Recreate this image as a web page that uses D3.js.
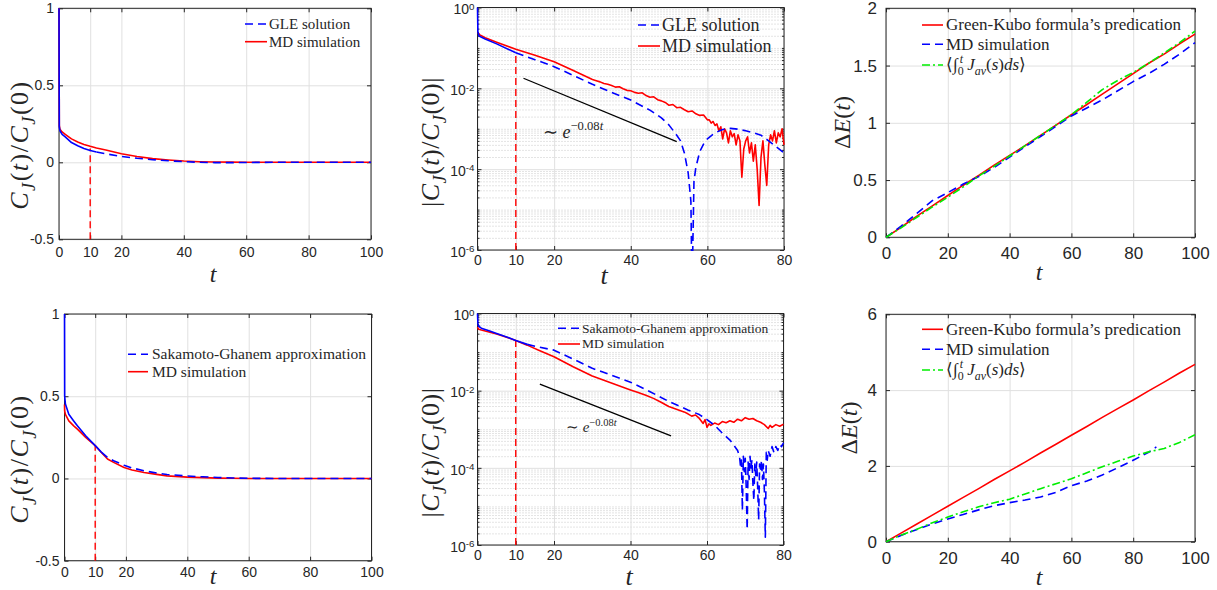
<!DOCTYPE html>
<html>
<head>
<meta charset="utf-8">
<script src="https://cdn.jsdelivr.net/npm/d3@7"></script>
<style>
  body { margin: 0; background: #fff; }
  svg { display: block; }
</style>
</head>
<body>
<svg width="1217" height="590"></svg>
<script>
// ---- data ----
// top-left: C_J(t)/C_J(0), GLE vs MD
const p1T   = [0, 0.1, 0.3, 1, 2, 4, 6, 8, 10, 12, 15, 20, 25, 30, 35, 40, 45, 50, 55, 60, 70, 80, 90, 100];
const p1Gle = [1, 0.23, 0.205, 0.182, 0.165, 0.128, 0.108, 0.09, 0.077, 0.067, 0.055, 0.038, 0.026, 0.017, 0.010, 0.004, 0.0, -0.002, -0.002, -0.001, 0, 0, 0, 0];
const p1Md  = [1, 0.24, 0.215, 0.197, 0.182, 0.152, 0.132, 0.116, 0.104, 0.093, 0.080, 0.056, 0.038, 0.024, 0.015, 0.008, 0.004, 0.002, 0.001, 0, 0, 0, 0, 0];

// top-middle: |C_J(t)/C_J(0)| (log10 exponents)
const p2GleT   = [0, 0.1, 0.4, 2, 5, 10, 15, 20, 25, 30, 35, 40, 45, 48, 50, 52, 53, 54, 55, 55.7, 56, 56.5, 57, 58, 59, 60, 62, 64, 66, 68, 70, 72, 74, 76, 78, 80];
const p2GleExp = [0, -0.6, -0.705, -0.78, -0.9, -1.12, -1.29, -1.465, -1.68, -1.9, -2.1, -2.29, -2.54, -2.73, -2.91, -3.16, -3.3, -3.6, -4.1, -4.8, -7, -4.3, -3.95, -3.57, -3.38, -3.25, -3.1, -3.02, -2.99, -3.01, -3.05, -3.1, -3.16, -3.3, -3.45, -3.6];
const p2MdT = [0.1, 0.5, 2, 5, 10, 15, 20, 25, 30, 31, 32, 33, 34, 35, 36, 37, 38, 39, 40, 41, 42, 43, 44, 45, 46, 47, 48, 49, 50,
  51, 52, 53, 54, 55, 56, 57, 58, 59, 60, 60.5, 61, 61.5, 62, 62.5, 63, 63.5, 64, 64.5, 65, 65.5, 66, 66.5, 67, 67.5, 68, 68.5, 69, 69.5, 70,
  70.5, 71, 71.5, 72, 72.5, 73, 73.5, 74, 74.5, 75, 75.5, 76, 76.5, 77, 77.5, 78, 78.5, 79, 79.5, 80];
const p2MdExp = [-0.62, -0.67, -0.75, -0.86, -1.035, -1.18, -1.34, -1.56, -1.78, -1.81, -1.84, -1.88, -1.9, -1.93, -1.97, -1.96, -2.01, -2.05, -2.06, -2.1, -2.12, -2.11, -2.18, -2.22, -2.21, -2.28, -2.31, -2.35, -2.42,
  -2.4, -2.48, -2.47, -2.53, -2.58, -2.56, -2.63, -2.67, -2.66, -2.78, -2.78, -2.86, -2.82, -2.92, -2.88, -3.05, -2.95, -3.25, -3.0, -3.1, -3.35, -3.05, -3.2, -3.12, -3.4, -3.15, -3.3, -4.2, -3.5, -3.3,
  -3.2, -3.6, -3.35, -3.8, -3.4, -4.0, -4.9, -3.7, -3.3, -3.9, -4.4, -3.4, -3.15, -3.3, -3.05, -3.35, -3.1, -3.2, -3.0, -3.4];
const p2SlopeT = [12, 52];
const p2SlopeExp = [-1.75, -3.32];

// top-right: Delta E(t)
const p3T   = [0, 5, 10, 15, 20, 25, 30, 35, 40, 45, 50, 55, 60, 65, 70, 75, 80, 85, 90, 95, 100];
const p3Gk  = [0, 0.09, 0.185, 0.275, 0.365, 0.455, 0.54, 0.63, 0.715, 0.8, 0.89, 0.98, 1.07, 1.16, 1.25, 1.34, 1.43, 1.52, 1.6, 1.69, 1.775];
const p3Md  = [0, 0.1, 0.21, 0.32, 0.39, 0.465, 0.53, 0.61, 0.7, 0.79, 0.88, 0.97, 1.06, 1.13, 1.2, 1.28, 1.36, 1.43, 1.51, 1.6, 1.7];
const p3Int = [0, 0.085, 0.175, 0.265, 0.35, 0.44, 0.535, 0.62, 0.71, 0.8, 0.89, 0.98, 1.07, 1.18, 1.29, 1.37, 1.44, 1.52, 1.61, 1.7, 1.8];

// bottom-left: C_J(t)/C_J(0), Sakamoto-Ghanem vs MD
const p4T  = [0, 0.05, 0.3, 1.4, 3, 4.2, 6.9, 10, 12, 14, 16, 19.4, 22, 25.9, 30, 33.4, 40, 45, 50, 55, 60, 70, 80, 90, 100];
const p4Sg = [1, 0.5, 0.453, 0.39, 0.35, 0.32, 0.26, 0.2, 0.16, 0.128, 0.108, 0.081, 0.064, 0.047, 0.033, 0.024, 0.015, 0.01, 0.006, 0.003, 0.001, 0, 0, 0, 0];
const p4Md = [0.45, 0.41, 0.39, 0.35, 0.32, 0.3, 0.25, 0.2, 0.158, 0.118, 0.098, 0.067, 0.052, 0.036, 0.025, 0.016, 0.008, 0.005, 0.002, 0.001, 0, 0, 0, 0, 0];

// bottom-middle: |C_J(t)/C_J(0)| (log10 exponents)
const p5SgT = [0, 0.1, 0.3, 1, 3, 5, 8, 10, 13, 16, 20, 25, 30, 35, 40, 45, 50, 55, 58, 60, 62, 64, 66, 68,
  68.5, 68.75, 69, 69.25, 69.5, 69.75, 70, 70.25, 70.5, 70.75, 71, 71.25, 71.5, 71.75, 72, 72.25, 72.5, 72.75,
  73, 73.25, 73.5, 73.75, 74, 74.25, 74.5, 74.75, 75, 75.25, 75.5, 75.75, 76, 76.5, 77, 77.5, 78, 78.5, 79, 79.5, 80];
const p5SgExp = [0, -0.25, -0.33, -0.38, -0.45, -0.52, -0.62, -0.7, -0.8, -0.87, -0.95, -1.18, -1.42, -1.6, -1.78, -2.02, -2.28, -2.5, -2.62, -2.75, -2.9, -3.1, -3.28, -3.55,
  -3.7, -3.95, -3.8, -5.1, -3.7, -4.1, -3.75, -4.5, -5.6, -3.85, -4.3, -3.7, -4.0, -3.8, -4.4, -4.85, -3.9, -4.2,
  -3.85, -4.5, -5.35, -3.9, -4.1, -3.8, -4.3, -3.9, -4.6, -5.8, -3.6, -3.8, -3.55, -3.7, -3.45, -3.6, -3.45, -3.55, -3.4, -3.45, -3.35];
const p5MdT = [0, 0.3, 1, 3, 5, 8, 10, 13, 16, 20, 25, 30, 35, 40, 42, 44, 46, 48, 50, 52, 54, 55, 56, 57, 58, 59, 59.5, 60, 60.5, 61,
  62, 63, 64, 65, 66, 67, 68, 69, 70, 71, 72, 73, 74, 75, 76, 76.5, 77, 78, 79, 80];
const p5MdExp = [-0.35, -0.41, -0.43, -0.48, -0.53, -0.63, -0.7, -0.82, -0.95, -1.12, -1.38, -1.62, -1.8, -1.98, -2.05, -2.12, -2.2, -2.3, -2.41, -2.48, -2.55, -2.6, -2.66, -2.63, -2.72, -2.85, -2.75, -2.95, -2.86, -2.9,
  -2.84, -2.88, -2.8, -2.83, -2.78, -2.82, -2.74, -2.78, -2.7, -2.74, -2.72, -2.78, -2.82, -2.88, -2.98, -2.9, -2.95, -2.88, -2.92, -2.87];
const p5SlopeT = [16.3, 50.6];
const p5SlopeExp = [-1.83, -3.17];

// bottom-right: Delta E(t)
const p6T   = [0, 5, 10, 15, 20, 25, 30, 35, 40, 45, 50, 55, 60, 65, 70, 75, 80, 85, 90, 95, 100];
const p6Gk  = [0, 0.234, 0.468, 0.7, 0.936, 1.17, 1.4, 1.64, 1.87, 2.1, 2.34, 2.57, 2.81, 3.04, 3.28, 3.51, 3.74, 3.98, 4.21, 4.45, 4.68];
const p6Int = [0, 0.18, 0.33, 0.5, 0.65, 0.79, 0.92, 1.03, 1.12, 1.26, 1.4, 1.53, 1.66, 1.82, 1.98, 2.12, 2.26, 2.37, 2.46, 2.62, 2.82];
const p6MdT = [0, 5, 10, 15, 20, 25, 30, 35, 40, 45, 50, 55, 60, 65, 70, 75, 80, 85, 87.5];
const p6Md  = [0, 0.17, 0.32, 0.47, 0.6, 0.72, 0.84, 0.95, 1.03, 1.1, 1.18, 1.3, 1.48, 1.6, 1.76, 1.95, 2.15, 2.36, 2.5];

// ticks
const xTicksA = [0, 10, 20, 40, 60, 80, 100];
const xTicksB = [0, 10, 20, 40, 60, 80];
const xTicksC = [0, 20, 40, 60, 80, 100];
const yTicksC = [-0.5, 0, 0.5, 1];
const yTicksLog = [1, 1e-2, 1e-4, 1e-6];
const yTicksE1 = [0, 0.5, 1, 1.5, 2];
const yTicksE2 = [0, 2, 4, 6];

// ---- drawing ----
const svg = d3.select("svg");
const SERIF = "'Liberation Serif', 'Times New Roman', serif";
const SANS = "'Liberation Sans', Arial, Helvetica, sans-serif";
const INK = "#262626";
const BLUE = "#0000ff", RED = "#ff0000", GREEN = "#00ee00";

// text with italic / sub / sup pieces
function rich(text, parts, fs) {
  let shift = 0;
  parts.forEach(([s, f = "", dx = 0]) => {
    const target = f.includes("sub") ? 0.28 * fs : f.includes("sup") ? -0.42 * fs : 0;
    const ts = text.append("tspan").text(s);
    if (target !== shift) ts.attr("dy", target - shift);
    if (dx) ts.attr("dx", dx);
    if (f.includes("sub") || f.includes("sup")) ts.attr("font-size", fs * 0.7);
    if (f.includes("i")) ts.attr("font-style", "italic");
    shift = target;
  });
}

const labCJ = [["C", "i"], ["J", "i sub"], ["("], ["t", "i"], [")/"], ["C", "i"], ["J", "i sub"], ["(0)"]];
const labAbs = [["|"]].concat(labCJ, [["|"]]);
const labDE = [["Δ"], ["E", "i"], ["("], ["t", "i"], [")"]];
const labT = [["t", "i"]];
const labExp = [["∼ "], ["e", "i"], ["−0.08", "sup"], ["t", "i sup"]];
const labGle = [["GLE solution"]];
const labMd = [["MD simulation"]];
const labSg = [["Sakamoto-Ghanem approximation"]];
const labGk = [["Green-Kubo formula’s predication"]];
const labInt = [["⟨∫"], ["0", "sub"], ["t", "i sup", -4], [" J", "i"], ["av", "i sub"], ["("], ["s", "i"], [")"], ["ds", "i"], ["⟩"]];

function panel(o) {
  const [x0, x1, y0, y1] = o.box;
  const x = d3.scaleLinear().domain(o.xDomain).range([x0, x1]);
  const y = (o.log ? d3.scaleLog() : d3.scaleLinear()).domain(o.yDomain).range([y1, y0]);
  const g = svg.append("g");
  const clip = "clip" + o.id;
  g.append("clipPath").attr("id", clip).append("rect")
    .attr("x", x0 - 2).attr("y", y0 - 2).attr("width", x1 - x0 + 4).attr("height", y1 - y0 + 3);

  const noDomain = a => a.select(".domain").remove();
  let minor = [];
  if (o.log) {
    for (let e = -6; e < 0; e++)
      for (let k = 1; k <= 9; k++)
        if (!(k === 1 && e % 2 === 0)) minor.push(k * Math.pow(10, e));
    g.append("g").attr("transform", `translate(${x0},0)`)
      .call(d3.axisLeft(y).tickValues(minor).tickSize(-(x1 - x0)).tickFormat(""))
      .call(noDomain)
      .selectAll("line").attr("stroke", "#c8c8c8").attr("stroke-dasharray", "1,2");
  }
  // major grid
  g.append("g").attr("transform", `translate(0,${y1})`)
    .call(d3.axisBottom(x).tickValues(o.xTicks).tickSize(-(y1 - y0)).tickFormat(""))
    .call(noDomain)
    .selectAll("line").attr("stroke", "#e0e0e0");
  g.append("g").attr("transform", `translate(${x0},0)`)
    .call(d3.axisLeft(y).tickValues(o.yTicks).tickSize(-(x1 - x0)).tickFormat(""))
    .call(noDomain)
    .selectAll("line").attr("stroke", "#e0e0e0");

  // box
  g.append("rect").attr("x", x0).attr("y", y0).attr("width", x1 - x0).attr("height", y1 - y0)
    .attr("fill", "none").attr("stroke", INK).attr("stroke-width", 1);

  // ticks and tick labels
  const styleAxis = a => a.attr("color", INK).attr("font-family", SANS).attr("font-size", o.tickFs);
  styleAxis(g.append("g").attr("transform", `translate(0,${y1})`)
    .call(d3.axisBottom(x).tickValues(o.xTicks).tickSize(-4).tickPadding(o.xPad).tickFormat(d => d))
    .call(noDomain));
  styleAxis(g.append("g").attr("transform", `translate(0,${y0})`)
    .call(d3.axisTop(x).tickValues(o.xTicks).tickSize(-4).tickFormat(""))
    .call(noDomain));
  const yl = g.append("g").attr("transform", `translate(${x0},0)`)
    .call(d3.axisLeft(y).tickValues(o.yTicks).tickSize(-4).tickPadding(o.yPad)
      .tickFormat(o.log ? () => "" : d => d))
    .call(noDomain);
  styleAxis(yl);
  if (o.log) {
    yl.selectAll(".tick text").each(function (d) {
      const t = d3.select(this);
      t.append("tspan").text("10");
      t.append("tspan").attr("dy", -0.33 * o.tickFs).attr("font-size", o.tickFs * 0.7)
        .text(String(Math.round(Math.log10(d))));
    });
    // keep the top label inside the picture
    yl.selectAll(".tick text").attr("dy", "0.45em");
  }
  styleAxis(g.append("g").attr("transform", `translate(${x1},0)`)
    .call(d3.axisRight(y).tickValues(o.yTicks).tickSize(-4).tickFormat(""))
    .call(noDomain));
  if (o.log) {
    g.append("g").attr("transform", `translate(${x0},0)`)
      .call(d3.axisLeft(y).tickValues(minor).tickSize(-2).tickFormat(""))
      .call(noDomain).attr("color", INK);
    g.append("g").attr("transform", `translate(${x1},0)`)
      .call(d3.axisRight(y).tickValues(minor).tickSize(-2).tickFormat(""))
      .call(noDomain).attr("color", INK);
  }

  // series (drawn over the axes, as in the original)
  const plot = g.append("g").attr("clip-path", `url(#${clip})`);
  const line = d3.line().x(d => x(d[0])).y(d => y(d[1]));
  o.series.forEach(s => {
    const pts = s.t.map((t, i) => [t, s.v[i]]);
    const segs = [];
    if (s.solidUntil != null) {
      const a = pts.filter(p => p[0] <= s.solidUntil);
      segs.push([a, null]);
      segs.push([pts.slice(a.length - 1), s.dash]);
    } else segs.push([pts, s.dash]);
    segs.forEach(([p, dash]) => {
      plot.append("path").datum(p).attr("d", line)
        .attr("fill", "none").attr("stroke", s.color)
        .attr("stroke-width", s.width || 1.6)
        .attr("stroke-linejoin", "round")
        .attr("stroke-dasharray", dash);
    });
  });

  // axis titles
  const yt = g.append("text").attr("font-family", SERIF).attr("font-size", o.yLab.fs)
    .attr("fill", INK).attr("text-anchor", "middle")
    .attr("letter-spacing", o.yLab.ls || 0)
    .attr("transform", `translate(${o.yLab.x},${o.yLab.y}) rotate(-90)`);
  rich(yt, o.yLab.parts, o.yLab.fs);
  const xt = g.append("text").attr("font-family", SERIF).attr("font-size", o.xLab.fs)
    .attr("fill", INK).attr("text-anchor", "middle")
    .attr("x", o.xLab.x).attr("y", o.xLab.y);
  rich(xt, labT, o.xLab.fs);

  // slope guide
  if (o.slope) {
    g.append("path").datum(o.slope.t.map((t, i) => [t, o.slope.v[i]])).attr("d", line)
      .attr("stroke", "#000").attr("stroke-width", 1.3).attr("fill", "none");
    const st = g.append("text").attr("font-family", SERIF).attr("font-size", o.slope.fs)
      .attr("fill", INK).attr("x", o.slope.lx).attr("y", o.slope.ly);
    rich(st, labExp, o.slope.fs);
  }

  // legend
  const L = o.legend;
  L.items.forEach((it, i) => {
    const cy = L.rows[i];
    g.append("line").attr("x1", L.x1).attr("x2", L.x2).attr("y1", cy).attr("y2", cy)
      .attr("stroke", it.color).attr("stroke-width", 1.6).attr("stroke-dasharray", it.dash);
    const t = g.append("text").attr("font-family", SERIF).attr("font-size", L.fs)
      .attr("fill", INK).attr("x", L.tx).attr("y", cy + L.fs * 0.32);
    rich(t, it.label, L.fs);
  });
}

const exp10 = a => a.map(e => Math.pow(10, e));
const DASH = "8,5", CUT = "7,4", DASHDOT = "8,3,2,3";

panel({
  id: 1, box: [59, 371, 8.3, 239.3], xDomain: [0, 100], yDomain: [-0.5, 1],
  xTicks: xTicksA, yTicks: yTicksC, tickFs: 14, xPad: 8, yPad: 5,
  series: [
    { t: [10, 10], v: [-0.5, 0.09], color: RED, dash: CUT, width: 1.4 },
    { t: p1T, v: p1Md, color: RED },
    { t: p1T, v: p1Gle, color: BLUE, dash: DASH, solidUntil: 12 }
  ],
  yLab: { parts: labCJ, fs: 26, x: 28, y: 145, ls: 1.5 },
  xLab: { x: 213, y: 282, fs: 24 },
  legend: { x1: 245, x2: 267, tx: 269, fs: 15, rows: [24, 41.7],
    items: [{ label: labGle, color: BLUE, dash: DASH }, { label: labMd, color: RED }] }
});

panel({
  id: 2, box: [477.5, 784, 7.5, 250], xDomain: [0, 80], yDomain: [1e-6, 1], log: true,
  xTicks: xTicksB, yTicks: yTicksLog, tickFs: 14, xPad: 5, yPad: 3,
  series: [
    { t: [10, 10], v: [1e-6, 0.076], color: RED, dash: CUT, width: 1.4 },
    { t: p2MdT, v: exp10(p2MdExp), color: RED },
    { t: p2GleT, v: exp10(p2GleExp), color: BLUE, dash: DASH, solidUntil: 10 }
  ],
  slope: { t: p2SlopeT, v: exp10(p2SlopeExp), lx: 543, ly: 138, fs: 18 },
  yLab: { parts: labAbs, fs: 26, x: 439, y: 142, ls: 0.5 },
  xLab: { x: 604, y: 284, fs: 26 },
  legend: { x1: 638, x2: 660, tx: 662, fs: 18, rows: [25, 46],
    items: [{ label: labGle, color: BLUE, dash: DASH }, { label: labMd, color: RED }] }
});

panel({
  id: 3, box: [886, 1195, 8.3, 237.3], xDomain: [0, 100], yDomain: [0, 2],
  xTicks: xTicksC, yTicks: yTicksE1, tickFs: 17, xPad: 10, yPad: 9,
  series: [
    { t: p3T, v: p3Gk, color: RED },
    { t: p3T, v: p3Md, color: BLUE, dash: DASH },
    { t: p3T, v: p3Int, color: GREEN, dash: DASHDOT }
  ],
  yLab: { parts: labDE, fs: 24, x: 850, y: 122.5 },
  xLab: { x: 1039, y: 280, fs: 24 },
  legend: { x1: 922, x2: 943, tx: 946, fs: 17, rows: [25, 44.3, 65],
    items: [{ label: labGk, color: RED }, { label: labMd, color: BLUE, dash: DASH },
      { label: labInt, color: GREEN, dash: DASHDOT }] }
});

panel({
  id: 4, box: [64.5, 371.5, 314, 560.7], xDomain: [0, 100], yDomain: [-0.5, 1],
  xTicks: xTicksA, yTicks: yTicksC, tickFs: 14, xPad: 6, yPad: 5,
  series: [
    { t: [10, 10], v: [-0.5, 0.2], color: RED, dash: CUT, width: 1.4 },
    { t: p4T, v: p4Md, color: RED },
    { t: p4T, v: p4Sg, color: BLUE, dash: DASH, solidUntil: 12 }
  ],
  yLab: { parts: labCJ, fs: 26, x: 28.3, y: 459, ls: 1.5 },
  xLab: { x: 213, y: 584, fs: 24 },
  legend: { x1: 128, x2: 148, tx: 152, fs: 15.5, rows: [354.3, 371.7],
    items: [{ label: labSg, color: BLUE, dash: DASH }, { label: labMd, color: RED }] }
});

panel({
  id: 5, box: [477.5, 783.5, 313.5, 545], xDomain: [0, 80], yDomain: [1e-6, 1], log: true,
  xTicks: xTicksB, yTicks: yTicksLog, tickFs: 14, xPad: 5, yPad: 3,
  series: [
    { t: [10, 10], v: [1e-6, 0.2], color: RED, dash: CUT, width: 1.4 },
    { t: p5MdT, v: exp10(p5MdExp), color: RED },
    { t: p5SgT, v: exp10(p5SgExp), color: BLUE, dash: DASH, solidUntil: 13 }
  ],
  slope: { t: p5SlopeT, v: exp10(p5SlopeExp), lx: 566, ly: 432, fs: 15 },
  yLab: { parts: labAbs, fs: 26, x: 439, y: 452.5, ls: 0.5 },
  xLab: { x: 629, y: 585, fs: 26 },
  legend: { x1: 558, x2: 580, tx: 582, fs: 13.5, rows: [328.3, 344],
    items: [{ label: labSg, color: BLUE, dash: DASH }, { label: labMd, color: RED }] }
});

panel({
  id: 6, box: [886, 1195, 314.3, 541.7], xDomain: [0, 100], yDomain: [0, 6],
  xTicks: xTicksC, yTicks: yTicksE2, tickFs: 17, xPad: 10, yPad: 9,
  series: [
    { t: p6T, v: p6Gk, color: RED },
    { t: p6MdT, v: p6Md, color: BLUE, dash: DASH },
    { t: p6T, v: p6Int, color: GREEN, dash: DASHDOT }
  ],
  yLab: { parts: labDE, fs: 24, x: 857, y: 428 },
  xLab: { x: 1039, y: 585, fs: 24 },
  legend: { x1: 922, x2: 943, tx: 946, fs: 17, rows: [329.3, 349.3, 370],
    items: [{ label: labGk, color: RED }, { label: labMd, color: BLUE, dash: DASH },
      { label: labInt, color: GREEN, dash: DASHDOT }] }
});
</script>
</body>
</html>
